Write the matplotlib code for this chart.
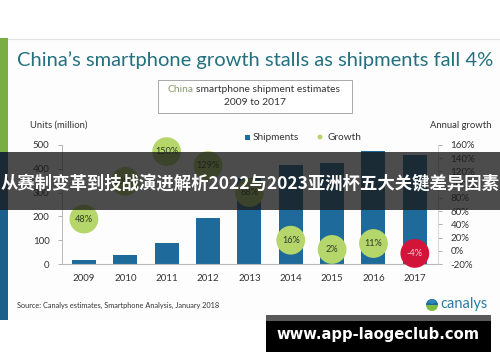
import matplotlib
matplotlib.use("Agg")
import matplotlib.pyplot as plt
from matplotlib.patches import Rectangle, Circle, Wedge

# ---------------- data ----------------
years = ["2009", "2010", "2011", "2012", "2013", "2014", "2015", "2016", "2017"]
shipments = [18, 37, 90, 193, 360, 417, 425, 474, 458]
growth = [48, 105, 150, 129, 88, 16, 2, 11, -4]
growth_labels = ["48%", "105%", "150%", "129%", "88%", "16%", "2%", "11%", "-4%"]
left_ticks = [0, 100, 200, 300, 400, 500]
right_ticks = [-20, 0, 20, 40, 60, 80, 100, 120, 140, 160]
right_tick_labels = ["-20%", "0%", "20%", "40%", "60%", "80%", "100%", "120%", "140%", "160%"]

W, H = 500, 362
fig = plt.figure(figsize=(W / 100, H / 100), dpi=100)
fig.patch.set_facecolor("white")

def px_axes(x0, y0, x1, y1, **kw):
    # pixel box (x0,y0)-(x1,y1), y measured from top
    return fig.add_axes([x0 / W, 1 - y1 / H, (x1 - x0) / W, (y1 - y0) / H], **kw)

# ---------- background decorations ----------
bg = px_axes(0, 0, W, H, zorder=0)
bg.set_xlim(0, W); bg.set_ylim(H, 0); bg.axis("off")
bg.add_patch(Rectangle((0, 38), W, 282, facecolor="#fdfdfd", edgecolor="none"))
bg.plot([8, W], [38.5, 38.5], color="#e4e4e4", lw=0.8)
bg.add_patch(Rectangle((0, 38), 8, 114, facecolor="#7aae45", edgecolor="none"))
bg.add_patch(Rectangle((0, 152), 8, 168, facecolor="#1b5f8c", edgecolor="none"))

txt_dark = "#333333"
bg.text(17, 60, "China\u2019s smartphone growth stalls as shipments fall 4%",
        fontsize=14.5, color="#23707f", family="Lato", va="center", ha="left")
bg.add_patch(Rectangle((158, 80), 194, 33, facecolor="white", edgecolor="#9a9a9a", lw=0.6))
bg.text(167, 90, "China", fontsize=7.4, color="#8c9a6a", family="Lato", va="center", ha="left")
bg.text(196, 90, "smartphone shipment estimates", fontsize=7.4, color=txt_dark,
        family="Lato", va="center", ha="left")
bg.text(255, 102.5, "2009 to 2017", fontsize=7.4, color=txt_dark, family="Lato",
        va="center", ha="center")
bg.text(30, 125, "Units (million)", fontsize=6.8, color=txt_dark, family="Lato", va="center")
bg.text(430, 125, "Annual growth", fontsize=6.8, color=txt_dark, family="Lato", va="center")
# legend
bg.add_patch(Rectangle((244.5, 134.5), 5, 5, facecolor="#1e6a9a", edgecolor="none"))
bg.text(253, 137, "Shipments", fontsize=7.2, color=txt_dark, family="Lato", va="center")
bg.add_patch(Circle((320, 137), 2.5, facecolor="#b5d66b", edgecolor="none"))
bg.text(327, 137, "Growth", fontsize=7.2, color=txt_dark, family="Lato", va="center")
# source and logo
bg.text(17, 305, "Source: Canalys estimates, Smartphone Analysis, January 2018",
        fontsize=5.3, color=txt_dark, family="Lato", va="center")
bg.add_patch(Wedge((432, 305), 6, 0, 180, facecolor="#7dbb42", edgecolor="none"))
bg.add_patch(Wedge((432, 305), 6, 180, 360, facecolor="#1d6a9c", edgecolor="none"))
bg.add_patch(Wedge((432, 304), 4.5, 200, 340, facecolor="#2f88b8", edgecolor="none"))
bg.text(440, 304, "canalys", fontsize=10.5, color="#2b7ca6", family="Lato", va="center")

# ---------- main chart ----------
ax = px_axes(62, 145, 438, 264, zorder=2)
ax.patch.set_alpha(0)
x = list(range(len(years)))
ax.bar(x, shipments, width=0.58, color="#1e6a9a", zorder=2)
ax.set_xlim(-0.53, 8.56)
ax.set_ylim(0, 500)
ax.set_yticks(left_ticks)
ax.set_yticklabels([str(t) for t in left_ticks], fontsize=7, color=txt_dark, family="Lato")
ax.set_xticks(x)
ax.set_xticklabels(years, fontsize=7, color=txt_dark, family="Lato")
ax.tick_params(axis="x", length=0, pad=7)
ax.tick_params(axis="y", length=3, color="#b0b0b0", width=0.7, pad=6)
for s in ["top", "right"]:
    ax.spines[s].set_visible(False)
ax.spines["left"].set_color("#b8b8b8")
ax.spines["bottom"].set_color("#b8b8b8")
ax.spines["left"].set_linewidth(0.7)
ax.spines["bottom"].set_linewidth(0.8)

ax2 = ax.twinx()
ax2.set_ylim(-20, 160)
ax2.set_yticks(right_ticks)
ax2.set_yticklabels(right_tick_labels, fontsize=7, color=txt_dark, family="Lato")
ax2.tick_params(axis="y", length=3, color="#b0b0b0", width=0.7, pad=6)
for s in ["top", "left", "bottom"]:
    ax2.spines[s].set_visible(False)
ax2.spines["right"].set_color("#d0d0d0")
ax2.spines["right"].set_linewidth(0.6)
colors = ["#d2143a" if g < 0 else "#b5d66b" for g in growth]
ax2.scatter(x, growth, s=430, c=colors, edgecolors="none", zorder=3, clip_on=False)
for xi, g, lab in zip(x, growth, growth_labels):
    ax2.text(xi, g, lab, ha="center", va="center", fontsize=6.6, family="Lato",
             color="#f5c9d1" if g < 0 else "#2d3b22", zorder=4, clip_on=False)

# ---------- overlays ----------
ov = px_axes(0, 0, W, H, zorder=10)
ov.set_xlim(0, W); ov.set_ylim(H, 0); ov.axis("off")
ov.patch.set_alpha(0)
ov.add_patch(Rectangle((0, 152), W, 58, facecolor="#1a1a1a", alpha=0.78, edgecolor="none"))
ov.text(250, 184, "从赛制变革到技战演进解析2022与2023亚洲杯五大关键差异因素",
        ha="center", va="center", color="white", fontsize=12.5, fontweight="bold",
        family=["Noto Sans CJK SC", "DejaVu Sans"])
ov.add_patch(Rectangle((266, 315), 225, 6, facecolor="#5a5a5a", edgecolor="none"))
ov.add_patch(Rectangle((266, 321), 225, 31, facecolor="black", edgecolor="none"))
ov.text(378, 335, "www.app-laogeclub.com", ha="center", va="center", color="white",
        fontsize=10.6, fontweight="bold", family="DejaVu Sans")

fig.savefig("out.png", dpi=100, facecolor="white")
